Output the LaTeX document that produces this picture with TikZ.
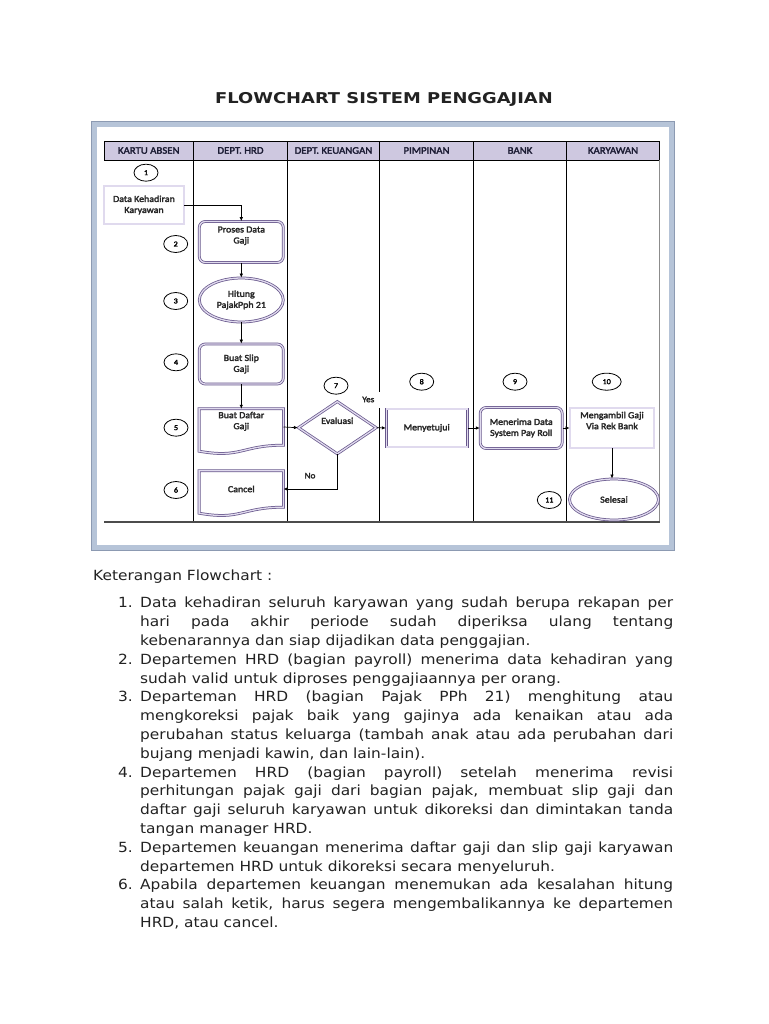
\documentclass[tikz,border=0pt]{standalone}
\usepackage{fontspec}
\setmainfont{DejaVu Sans}[FakeStretch=1.1]
\newfontfamily\titlefont{DejaVu Sans}[FakeStretch=1.2]
\newfontfamily\carl{Carlito}[FakeStretch=1.08, FakeBold=2.6]
\usetikzlibrary{shapes.geometric,arrows.meta,calc}
\definecolor{hdrfill}{RGB}{206,200,224}
\definecolor{shpline}{RGB}{104,88,140}
\definecolor{shpgap}{RGB}{224,218,238}
\definecolor{framec}{RGB}{182,196,216}
\definecolor{framedk}{RGB}{140,154,178}
\definecolor{hdrtext}{RGB}{28,28,52}
\definecolor{bodytext}{RGB}{34,34,34}
\newcommand\jline[3]{\node[body] (#1) at (140,#2) {\makebox[533pt][s]{#3}};}
\newcommand\lline[3]{\node[body] (#1) at (140,#2) {#3};}
\newcommand\numl[3]{\node[body] (#1) at (118,#2) {#3};}
\begin{document}
\begin{tikzpicture}[x=1pt,y=-1pt,
  shp/.style={draw=shpline, double=shpgap, double distance=1.3pt, line width=0.75pt, fill=white},
  lbl/.style={font=\carl\fontsize{9.2}{11}\selectfont, text=black!85, align=center, inner sep=0pt},
  num/.style={ellipse, draw=black, line width=0.8pt, fill=white, minimum width=24pt, minimum height=17pt, inner sep=0pt, font=\carl\fontsize{7.5}{8}\selectfont},
  arr/.style={draw=black, line width=0.7pt, -{Latex[length=4pt,width=3.5pt]}},
  hdrcell/.style={draw=black, line width=0.6pt, fill=hdrfill, minimum height=19pt, inner sep=0pt, font=\carl\fontsize{10}{12}\selectfont, text=hdrtext},
  lane/.style={draw=black, line width=0.8pt},
  body/.style={font=\fontsize{14}{18.8}\selectfont, anchor=base west, inner sep=0pt, text=bodytext},
  flag/.style={font=\carl\fontsize{8.5}{10}\selectfont, text=black!85, inner sep=1pt}]
\useasboundingbox (0,0) rectangle (768,1024);
\fill[white] (0,0) rectangle (768,1024);

% title
\node[anchor=base, inner sep=0pt, font=\titlefont\bfseries\fontsize{14.9}{18}\selectfont, text=bodytext] (title) at (384,104) {FLOWCHART SISTEM PENGGAJIAN};

% frame of the picture
\draw[framedk, line width=0.8pt] (91.2,121.7) rectangle (674.3,550.3);
\draw[framec, line width=5pt] (94,124.5) rectangle (671.5,547.5);

% header cells
\node[hdrcell, minimum width=89.5pt] (h1) at (148.75,150.5) {KARTU ABSEN};
\node[hdrcell, minimum width=94pt] (h2) at (240.5,150.5) {DEPT. HRD};
\node[hdrcell, minimum width=92pt] (h3) at (333.5,150.5) {DEPT. KEUANGAN};
\node[hdrcell, minimum width=94pt] (h4) at (426.5,150.5) {PIMPINAN};
\node[hdrcell, minimum width=93pt] (h5) at (520,150.5) {BANK};
\node[hdrcell, minimum width=93pt] (h6) at (613,150.5) {KARYAWAN};

% lanes
\draw[lane] (193.5,160) -- (193.5,522);
\draw[lane] (287.5,160) -- (287.5,522);
\draw[lane] (379.5,160) -- (379.5,522);
\draw[lane] (473.5,160) -- (473.5,522);
\draw[lane] (566.5,160) -- (566.5,522);
\draw[draw=black!45, line width=0.6pt] (659.5,160) -- (659.5,522);
\draw[draw=black!70, line width=1.3pt] (104,522) -- (659.5,522);

% shapes
\node[shp, lbl, minimum width=80pt, minimum height=38pt] (n1) at (144,205) {Data Kehadiran\\Karyawan};
\node[shp, lbl, rounded corners=6pt, minimum width=84pt, minimum height=41pt] (n2) at (241.3,242) {Proses Data\\Gaji\\[3pt]};
\node[shp, lbl, ellipse, minimum width=84pt, minimum height=44pt] (n3) at (241.3,300) {Hitung\\PajakPph 21};
\node[shp, lbl, rounded corners=6pt, minimum width=84pt, minimum height=40pt] (n4) at (241.3,364) {Buat Slip\\Gaji};
\node[lbl, minimum width=84pt, minimum height=36pt] (n5) at (241.3,427) {Buat Daftar\\Gaji\\[2pt]};
\path[shp, fill=none] (n5.north west) -- (n5.north east) -- (n5.south east)
  .. controls (n5.south) and ($(n5.south)+(0,13.5)$) .. ($(n5.south west)+(0,6)$) -- cycle;
\node[lbl, minimum width=84pt, minimum height=36pt] (n6) at (241.3,489) {Cancel};
\path[shp, fill=none] (n6.north west) -- (n6.north east) -- (n6.south east)
  .. controls (n6.south) and ($(n6.south)+(0,13.5)$) .. ($(n6.south west)+(0,6)$) -- cycle;
\node[shp, lbl, diamond, minimum width=78pt, minimum height=47pt] (n7) at (337.3,427.7) {Evaluasi\\[3pt]};
\node[shp, lbl, minimum width=81pt, minimum height=38pt] (n8) at (426.7,428) {Menyetujui};
\node[shp, lbl, rounded corners=6pt, minimum width=82pt, minimum height=41pt] (n9) at (521.2,428) {Menerima Data\\System Pay Roll};
\node[shp, lbl, minimum width=84pt, minimum height=40pt] (n10) at (612,428) {Mengambil Gaji\\Via Rek Bank\\[4pt]};
\node[shp, lbl, ellipse, minimum width=89pt, minimum height=41pt] (n11) at (614,499.5) {Selesai};

% step numbers
\node[num] (c1) at (146,172.7) {1};
\node[num] (c2) at (175.7,244) {2};
\node[num] (c3) at (175.7,301) {3};
\node[num] (c4) at (176,362.3) {4};
\node[num] (c5) at (176,427.7) {5};
\node[num] (c6) at (176,490) {6};
\node[num] (c7) at (336,385.7) {7};
\node[num] (c8) at (421.7,381.7) {8};
\node[num] (c9) at (515,381.7) {9};
\node[num, minimum width=29pt] (c10) at (606.7,381.7) {10};
\node[num] (c11) at (549.3,500) {11};

% connectors
\draw[arr] (n1.east) -| (n2.north);
\draw[arr] (n2.south) -- (n3.north);
\draw[arr] (n3.south) -- (n4.north);
\draw[arr] (n4.south) -- (n5.north);
\draw[arr] (n5.east) -- (n7.west);
\draw[arr] (n7.east) -- (n8.west);
\draw[arr] (n7.south) |- (n6.east);
\draw[arr] (n8.east) -- (n9.west);
\draw[arr] (n9.east) -- (n10.west);
\draw[arr] (n10.south) -- (n10.south |- n11.north);
\node[flag, fill=white, minimum width=28pt, minimum height=16pt] (yes) at (368.3,399.5) {Yes};
\node[flag] (no) at (310,475.7) {No};

% explanation
\node[body] (ket) at (93,580.8) {Keterangan Flowchart :};
\numl{m1}{607.8}{1.}
\jline{l0}{607.8}{Data kehadiran seluruh karyawan yang sudah berupa rekapan per}
\jline{l1}{626.6}{hari pada akhir periode sudah diperiksa ulang tentang}
\lline{l2}{645.4}{kebenarannya dan siap dijadikan data penggajian.}
\numl{m2}{664.2}{2.}
\jline{l3}{664.2}{Departemen HRD (bagian payroll) menerima data kehadiran yang}
\lline{l4}{683.0}{sudah valid untuk diproses penggajiaannya per orang.}
\numl{m3}{701.8}{3.}
\jline{l5}{701.8}{Departeman HRD (bagian Pajak PPh 21) menghitung atau}
\jline{l6}{720.6}{mengkoreksi pajak baik yang gajinya ada kenaikan atau ada}
\jline{l7}{739.4}{perubahan status keluarga (tambah anak atau ada perubahan dari}
\lline{l8}{758.2}{bujang menjadi kawin, dan lain-lain).}
\numl{m4}{777.0}{4.}
\jline{l9}{777.0}{Departemen HRD (bagian payroll) setelah menerima revisi}
\jline{l10}{795.8}{perhitungan pajak gaji dari bagian pajak, membuat slip gaji dan}
\jline{l11}{814.6}{daftar gaji seluruh karyawan untuk dikoreksi dan dimintakan tanda}
\lline{l12}{833.4}{tangan manager HRD.}
\numl{m5}{852.2}{5.}
\jline{l13}{852.2}{Departemen keuangan menerima daftar gaji dan slip gaji karyawan}
\lline{l14}{871.0}{departemen HRD untuk dikoreksi secara menyeluruh.}
\numl{m6}{889.8}{6.}
\jline{l15}{889.8}{Apabila departemen keuangan menemukan ada kesalahan hitung}
\jline{l16}{908.6}{atau salah ketik, harus segera mengembalikannya ke departemen}
\lline{l17}{927.4}{HRD, atau cancel.}
\end{tikzpicture}
\end{document}
